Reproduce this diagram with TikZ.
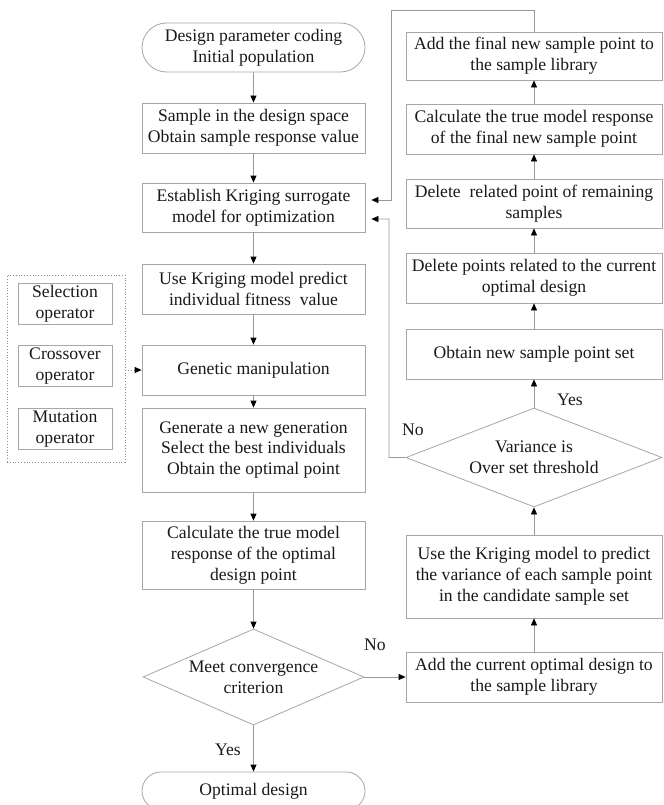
\documentclass[tikz,border=0pt]{standalone}
\usepackage{fontspec}
\setmainfont{Liberation Serif}
\usetikzlibrary{arrows.meta,shapes.geometric,shapes.misc,calc}

\begin{document}
\begin{tikzpicture}[
		x=1bp, y=-1bp,
		font=\fontsize{17.7}{21}\selectfont,
		>={Triangle[length=7bp,width=6bp,color=black]},
		every node/.style={align=center, inner sep=0pt, text=black!90},
		box/.style={draw=black!35, line width=0.8bp, minimum width=223bp},
		rbox/.style={draw=black!35, line width=0.8bp, minimum width=256bp},
		opbox/.style={draw=black!35, line width=0.8bp, minimum width=94bp, minimum height=41bp},
		term/.style={draw=black!35, line width=0.8bp, rounded rectangle, minimum width=223bp},
		decision/.style={draw=black!35, line width=0.8bp, diamond, aspect=2.3},
		group/.style={draw=black!45, dotted, line width=0.8bp, minimum width=118bp, minimum height=187bp},
		flow/.style={draw=black!40, line width=0.8bp, ->}
	]

		\useasboundingbox (0,0) rectangle (664,805);
		\clip (0,0) rectangle (664,805);

		% Main loop
		\node[term, minimum height=49bp] (start) at (253.5,47.5) {Design parameter coding\\Initial population};
		\node[box, minimum height=50bp] (sample) at (253.5,128) {Sample in the design space\\Obtain sample response value};
		\node[box, minimum height=49bp] (kriging) at (253.5,207.5) {Establish Kriging surrogate\\model for optimization};
		\node[box, minimum height=50bp] (fitness) at (253.5,289) {Use Kriging model predict\\individual fitness~ value};
		\node[box, minimum height=50bp] (genetic) at (253.5,370) {Genetic manipulation};
		\node[box, minimum height=84bp] (generate) at (253.5,450) {Generate a new generation\\Select the best individuals\\Obtain the optimal point};
		\node[box, minimum height=68bp] (truemodel) at (253.5,555) {Calculate the true model\\response of the optimal\\design point};
		\node[decision, minimum width=221bp, minimum height=96bp] (converge) at (253.5,677) {Meet convergence\\criterion};
		\node[term, minimum height=38bp] (optimal) at (253.5,791) {Optimal design};

		% Genetic operators
		\node[group] (operators) at (66,368.5) {};
		\node[opbox] (selection) at (65,303.5) {Selection\\operator};
		\node[opbox] (crossover) at (65,366) {Crossover\\operator};
		\node[opbox] (mutation) at (65,429) {Mutation\\operator};

		% Infill loop
		\node[rbox, minimum height=48bp] (addfinal) at (534,56) {Add the final new sample point to\\the sample library};
		\node[rbox, minimum height=50bp] (calcfinal) at (534,129) {Calculate the true model response\\of the final new sample point};
		\node[rbox, minimum height=49bp] (delrelated) at (534,203.5) {Delete~ related point of remaining\\samples};
		\node[rbox, minimum height=50bp] (delpoints) at (534,278) {Delete points related to the current\\optimal design};
		\node[rbox, minimum height=50bp] (newset) at (534,354) {Obtain new sample point set};
		\node[decision, minimum width=256bp, minimum height=99bp] (variance) at (534,457.5) {Variance is\\Over set threshold};
		\node[rbox, minimum height=83bp] (varpredict) at (534,576.5) {Use the Kriging model to predict\\the variance of each sample point\\in the candidate sample set};
		\node[rbox, minimum height=50bp] (addcurrent) at (534,677) {Add the current optimal design to\\the sample library};

		% Labels
		\node (yes1) at (228,750) {Yes};
		\node (no1) at (375,645) {No};
		\node (yes2) at (570,400) {Yes};
		\node (no2) at (413,430) {No};

		% Arrows
		\foreach \a/\b in {start/sample, sample/kriging, kriging/fitness, fitness/genetic,
				genetic/generate, generate/truemodel, truemodel/converge, converge/optimal,
				addcurrent/varpredict, varpredict/variance, variance/newset, newset/delpoints,
				delpoints/delrelated, delrelated/calcfinal, calcfinal/addfinal}
			\draw[flow] (\a) -- (\b);
		\draw[flow] (converge.east) -- (addcurrent.west);
		\draw[flow, dotted] (operators.east |- genetic) -- (genetic.west);
		\draw[flow] (addfinal.north) |- (391,10) |- ($(kriging.east)+(6,-7.5)$);
		\draw[flow] (variance.west) -| (389,219) -- ($(kriging.east)+(6,11.5)$);
	\end{tikzpicture}
\end{document}
